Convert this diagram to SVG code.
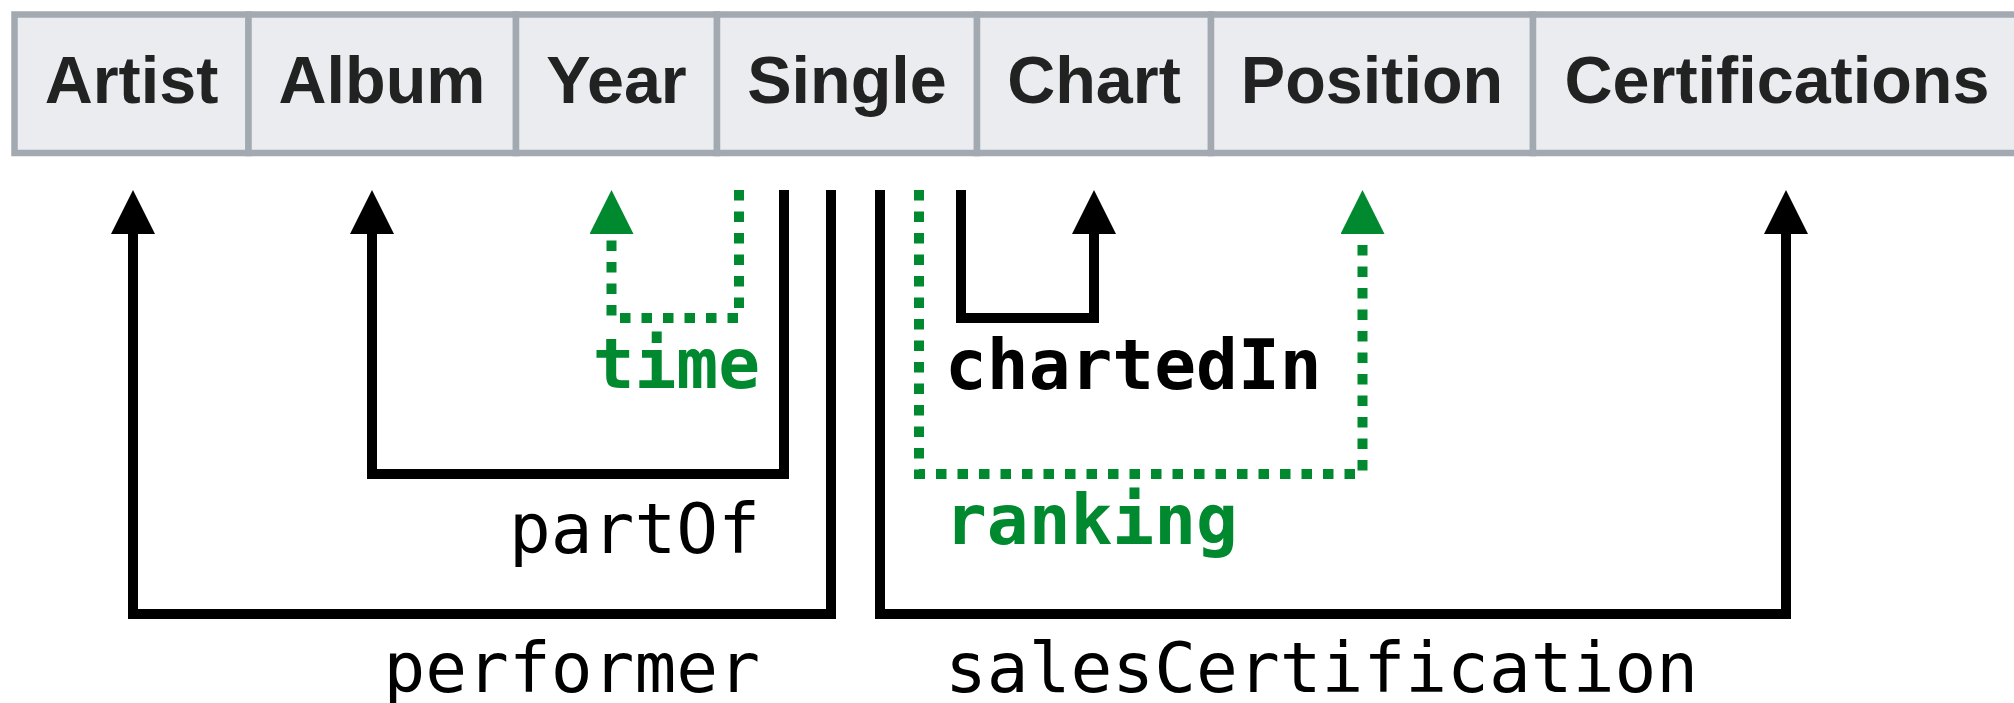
<svg xmlns="http://www.w3.org/2000/svg" width="2014" height="703" viewBox="0 0 2014 703">
<style>
.cell{fill:#eaecf0;stroke:#a2a9b1;stroke-width:6.5}
.hdr{font-family:"Liberation Sans",Arial,sans-serif;font-weight:bold;font-size:66.5px;fill:#222222;text-anchor:middle}
.lbl{font-family:"DejaVu Sans Mono","Liberation Mono",monospace;font-size:69.5px}
.b{font-weight:bold}
.g{fill:#00892f}
.k{fill:#000000}
.end{text-anchor:end}
.solid{fill:none;stroke:#000000;stroke-width:10;stroke-linejoin:miter}
.dot{fill:none;stroke:#00892f;stroke-width:10;stroke-dasharray:10.5 11;stroke-linejoin:miter}
</style>
<defs>
<marker id="ak" viewBox="0 0 44 44" markerUnits="userSpaceOnUse" markerWidth="44" markerHeight="44" refX="0" refY="22" orient="auto"><path d="M0,0 L44,22 L0,44 z" fill="#000000"/></marker>
<marker id="ag" viewBox="0 0 44 44" markerUnits="userSpaceOnUse" markerWidth="44" markerHeight="44" refX="0" refY="22" orient="auto"><path d="M0,0 L44,22 L0,44 z" fill="#00892f"/></marker>
</defs>
<rect x="0" y="0" width="2014" height="703" fill="#ffffff"/>
<g id="Artist"><rect class="cell" x="14.5" y="14.5" width="234" height="138.5"/><text class="hdr" x="131.5" y="103">Artist</text></g>
<g id="Album"><rect class="cell" x="248.5" y="14.5" width="267.5" height="138.5"/><text class="hdr" x="382" y="103">Album</text></g>
<g id="Year"><rect class="cell" x="516" y="14.5" width="201" height="138.5"/><text class="hdr" x="616.5" y="103">Year</text></g>
<g id="Single"><rect class="cell" x="717" y="14.5" width="260" height="138.5"/><text class="hdr" x="847" y="103">Single</text></g>
<g id="Chart"><rect class="cell" x="977" y="14.5" width="234" height="138.5"/><text class="hdr" x="1094" y="103">Chart</text></g>
<g id="Position"><rect class="cell" x="1211" y="14.5" width="322" height="138.5"/><text class="hdr" x="1372" y="103">Position</text></g>
<g id="Certifications"><rect class="cell" x="1533" y="14.5" width="500" height="138.5"/><text class="hdr" x="1777" y="103">Certifications</text></g>
<g id="connectors">
<path class="solid" d="M831,190 V614 H133 V234" marker-end="url(#ak)"/>
<path class="solid" d="M784,190 V474 H372 V234" marker-end="url(#ak)"/>
<path class="dot" d="M739,190 V318 H611.5 V234" marker-end="url(#ag)"/>
<path class="solid" d="M961,190 V318 H1094 V234" marker-end="url(#ak)"/>
<path class="dot" d="M919,190 V474 H1362.5 V234" marker-end="url(#ag)"/>
<path class="solid" d="M880,190 V614 H1786 V234" marker-end="url(#ak)"/>
</g>
<g id="labels">
<text class="lbl b g end" x="760" y="388">time</text>
<text class="lbl k end" x="760" y="553">partOf</text>
<text class="lbl k end" x="760" y="692">performer</text>
<text class="lbl b k" x="945" y="389">chartedIn</text>
<text class="lbl b g" x="945" y="544">ranking</text>
<text class="lbl k" x="945" y="692">salesCertification</text>
</g>
</svg>
